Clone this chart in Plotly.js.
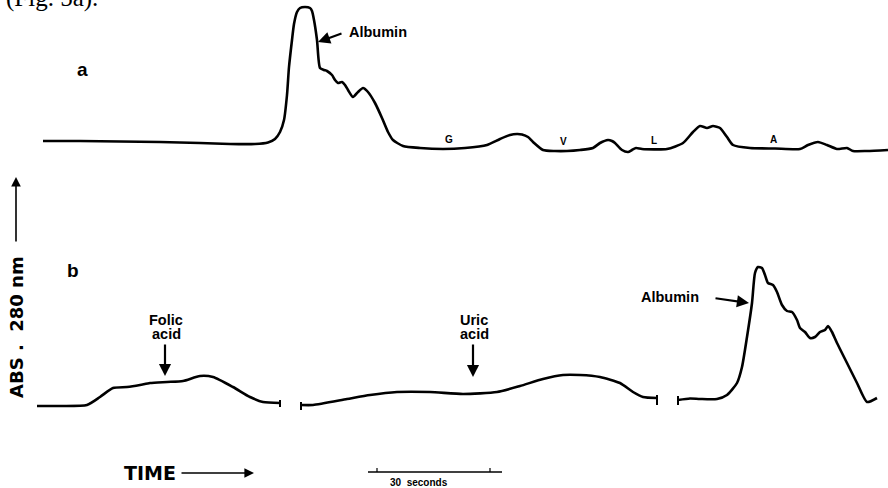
<!DOCTYPE html>
<html>
<head>
<meta charset="utf-8">
<script src="https://cdn.plot.ly/plotly-3.0.1.min.js"></script>
<style>html,body{margin:0;padding:0;background:#fff;}#chart{width:888px;height:488px;}</style>
</head>
<body>
<div id="chart"></div>
<script>
// ---- Trace a: serum chromatogram (time units, absorbance units above baseline) ----
const timeA = [43,80,120,160,200,230,255,268,275,280,284,287,289,292,294,297,300,305,310,312,314,317,320,324,327,332,335,338,342,345,348,353,358,363,368,375,382,388,393,403,420,443,465,487,500,510,517,522,528,533,543,555,567,580,593,600,608,612,615,622,628,632,636,642,667,683,693,700,707,713,720,727,733,750,775,800,808,818,827,837,847,853,867,888];
const absA  = [2,2,1.5,1,0,-1,-1,0.5,4,11,23,48,76,103,119,131,135,136,135,132,123,103,75,73,72,68,63,60,61,58,53,46,51,55,51,40,25,11,3,-3,-5,-6,-5,-2,4,8,9,8.5,6,1,-7,-8,-8,-7,-5,0,3,2,0,-7,-9,-7,-5,-6,-6,0,11,17,15,17,15,6,-2,-5,-5.5,-6,-2,1,-2,-6,-5,-8,-8,-7];

// ---- Trace b: three recorded segments ----
const timeB1 = [37,60,87,100,113,127,140,150,167,183,200,213,233,250,263,280];
const absB1  = [-1,-1,0,8,17,18,20,22,23,24,29,28,18,8,3,2];
const timeB2 = [301,313,347,370,397,430,463,497,520,543,563,580,600,620,633,643,657];
const absB2  = [0,0,6,10,13,13,11,13,19,26,30,30,28,22,13,8,7];
const timeB3 = [678,690,700,717,727,737,742,747,752,755,758,762,765,768,773,777,782,787,792,797,800,805,810,815,820,825,828,832,837,847,857,867,877];
const absB3  = [5,6.5,6,6,10,22,38,68,102,132,138,137,130,122,120,113,100,94,93,85,77,73,67,68,73,75,79,73,62,42,22,3,7];
const segEnds = [280,301,657,678];

// ---- Labels ----
const peakLabelsA = ['G','V','L','A'];
const peakLabelTimes = [449,563,654,773];
const scaleBarSeconds = 30;

const PX_H = 488;
const yB = py => 405 - py;   // pixel row -> trace b axis value
const pp = py => 1 - py / PX_H;

const lineStyle = {color:'#000', width:2.6, shape:'spline', smoothing:0.6};
const traces = [
  {x: timeA, y: absA, mode:'lines', line: lineStyle, xaxis:'x', yaxis:'y', hoverinfo:'skip'},
  {x: timeB1.concat([null], timeB2, [null], timeB3),
   y: absB1.concat([null], absB2, [null], absB3),
   mode:'lines', line: lineStyle, xaxis:'x', yaxis:'y2', connectgaps:false, hoverinfo:'skip'}
];

const FONT = 'Liberation Sans, Arial, sans-serif';
const WIDE = 'DejaVu Sans, Verdana, sans-serif';
const shapes = [];
const tickSpans = [[400,407],[402,410],[395,405],[396,405]];
segEnds.forEach((t,i)=>{
  shapes.push({type:'line', xref:'x', yref:'y2', x0:t, x1:t, y0:yB(tickSpans[i][0]), y1:yB(tickSpans[i][1]), line:{color:'#000', width:2}});
});
// 30 seconds scale bar
const barStart = 377, barLen = 113;
shapes.push({type:'line', xref:'x', yref:'paper', x0:368, x1:502, y0:pp(472), y1:pp(472), line:{color:'#000', width:1.6}});
shapes.push({type:'line', xref:'x', yref:'paper', x0:barStart, x1:barStart, y0:pp(468), y1:pp(472), line:{color:'#000', width:1.2}});
shapes.push({type:'line', xref:'x', yref:'paper', x0:barStart+barLen, x1:barStart+barLen, y0:pp(468), y1:pp(472), line:{color:'#000', width:1.2}});

const ann = [];
function txt(x, py, s, size, opts, fam){
  ann.push(Object.assign({x:x, y:pp(py), xref:'x', yref:'paper', text:s, showarrow:false,
    font:{family:fam||FONT, size:size, color:'#000'}, xanchor:'center', yanchor:'middle'}, opts||{}));
}
function arrow(hx, hy, tx, ty, w, head){
  ann.push({x:hx, y:pp(hy), xref:'x', yref:'paper', text:'', showarrow:true,
    ax: tx-hx, ay: ty-hy, arrowhead:2, arrowsize: head||1, arrowwidth:w||2, arrowcolor:'#000', standoff:0, startstandoff:0});
}
txt(4, -2, '(Fig. 5a).', 25, {xanchor:'left'}, 'Liberation Serif, Times New Roman, serif');
txt(82, 69, '<b>a</b>', 19);
txt(73, 270, '<b>b</b>', 19);
txt(378, 32, '<b>Albumin</b>', 14.5);
arrow(318, 42, 343, 33, 2.2, 1.1);
peakLabelsA.forEach((l,i)=>{ txt(peakLabelTimes[i], [139,142,141,139][i], '<b>'+l+'</b>', 10); });
txt(166, 320, '<b>Folic</b>', 14.5);
txt(166, 334, '<b>acid</b>', 14.5);
arrow(165, 376, 165, 343, 2.2, 1.1);
txt(474, 320, '<b>Uric</b>', 14.5);
txt(474, 334, '<b>acid</b>', 14.5);
arrow(473, 377, 473, 343, 2.2, 1.1);
txt(670, 297, '<b>Albumin</b>', 14.5);
arrow(749, 303, 714, 298, 2.2, 1.1);
txt(150, 473, '<b>TIME</b>', 19, null, WIDE);
arrow(254, 473, 180, 473, 1.6, 1.2);
txt(16, 327, '<b>ABS&nbsp;.&nbsp;&nbsp;280&nbsp;nm</b>', 18, {textangle:-90}, WIDE);
arrow(16, 177, 16, 243, 1.6, 1.2);
txt(419, 482, '<b>' + scaleBarSeconds + '&nbsp; seconds</b>', 10);

const layout = {
  width:888, height:488, margin:{l:0,r:0,t:0,b:0},
  paper_bgcolor:'#fff', plot_bgcolor:'#fff', showlegend:false,
  xaxis:{range:[0,888], domain:[0,1], visible:false, fixedrange:true},
  yaxis:{range:[-345,143], domain:[0,1], visible:false, fixedrange:true},
  yaxis2:{range:[-83,405], domain:[0,1], overlaying:'y', visible:false, fixedrange:true},
  shapes: shapes, annotations: ann
};
Plotly.newPlot('chart', traces, layout, {displayModeBar:false, staticPlot:true});
</script>
</body>
</html>
